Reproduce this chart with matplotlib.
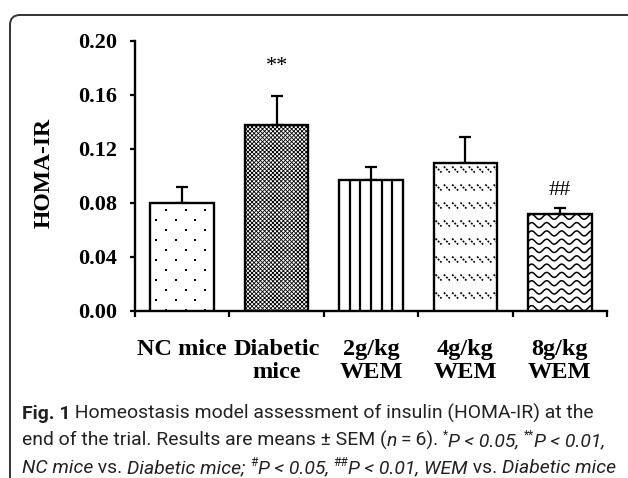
import matplotlib
matplotlib.use("Agg")
import matplotlib.pyplot as plt
import matplotlib.transforms as mtransforms
import numpy as np
from matplotlib.patches import FancyBboxPatch

# data
groups = ["NC mice", "Diabetic\nmice", "2g/kg\nWEM", "4g/kg\nWEM", "8g/kg\nWEM"]
homa_ir = [0.080, 0.138, 0.097, 0.110, 0.072]
sem = [0.012, 0.021, 0.010, 0.019, 0.004]
marks = ["", "**", "", "", "##"]
y_ticks = [0.00, 0.04, 0.08, 0.12, 0.16, 0.20]

W, H = 628, 478
plt.rcParams["font.family"] = "Liberation Serif"
fig = plt.figure(figsize=(W / 100, H / 100), dpi=100)
ax = fig.add_axes([135 / W, 1 - 311 / H, 472 / W, 270 / H])

x = np.arange(len(groups))
ax.set_xlim(-0.5, len(groups) - 0.5)
ax.set_ylim(0, 0.20)

bars = ax.bar(x, homa_ir, width=0.675, color="white", edgecolor="black",
              linewidth=1.7, zorder=3)
ax.errorbar(x, homa_ir, yerr=[np.zeros(len(sem)), sem], fmt="none",
            ecolor="black", elinewidth=1.6, capsize=4, capthick=1.6, zorder=2)

# pixel -> data scale
sx = (ax.get_xlim()[1] - ax.get_xlim()[0]) / ax.bbox.width
sy = 0.20 / ax.bbox.height

# checker in diabetic bar
bars[1].set_hatch("xxxxxxxx")
if hasattr(bars[1], "set_hatch_linewidth"):
    bars[1].set_hatch_linewidth(0.6)

# dots in NC bar
b = bars[0]
bx, bw, bh = b.get_x(), b.get_width(), b.get_height()
dx, dy = [], []
r = 0
yy = bh - 7 * sy
while yy > 0:
    off = 16 if r % 2 == 0 else 6
    xx = bx + off * sx
    while xx < bx + bw:
        dx.append(xx)
        dy.append(yy)
        xx += 19.5 * sx
    yy -= 10 * sy
    r += 1
ax.scatter(dx, dy, s=3.5, color="black", marker="s", zorder=4, clip_path=b,
           linewidths=0)

# vertical stripes in 2g bar
b = bars[2]
bx, bw, bh = b.get_x(), b.get_width(), b.get_height()
ax.vlines(bx + bw * np.arange(1, 6) / 6, 0, bh, color="black", lw=1.6,
          zorder=4)

# diagonal dashes in 4g bar
b = bars[3]
bx, bw, bh = b.get_x(), b.get_width(), b.get_height()
yy = bh - 7 * sy
while yy > -5 * sy:
    xx = bx + 2 * sx
    while xx < bx + bw:
        ln, = ax.plot([xx, xx + 6 * sx], [yy + 3 * sy, yy - 3 * sy],
                      color="black", lw=1.2, ls=(0, (1.2, 0.8)), zorder=4)
        ln.set_clip_path(b)
        xx += 8.3 * sx
    yy -= 18 * sy

# waves in 8g bar
b = bars[4]
bx, bw, bh = b.get_x(), b.get_width(), b.get_height()
wx = np.linspace(bx, bx + bw, 100)
yy = bh - 3 * sy
while yy > -3 * sy:
    wy = yy + 2.5 * sy * np.sin(2 * np.pi * (wx - bx) / (15 * sx))
    ln, = ax.plot(wx, wy, color="black", lw=1.1, zorder=4)
    ln.set_clip_path(b)
    yy -= 8.3 * sy

mark_lift = {"**": 0.022, "##": 0.0135}
for i, m in enumerate(marks):
    if m:
        ax.text(x[i], homa_ir[i] + sem[i] + mark_lift[m], m, ha="center",
                va="center", fontsize=16)

# axes styling
for s in ["top", "right"]:
    ax.spines[s].set_visible(False)
for s in ["left", "bottom"]:
    ax.spines[s].set_linewidth(1.7)
ax.set_yticks(y_ticks)
ax.set_yticklabels([f"{v:.2f}" for v in y_ticks], fontsize=16,
                   fontweight="bold")
ax.tick_params(axis="y", direction="out", length=3.5, width=1.6, pad=9.5)
ax.set_xticks(np.arange(-0.5, len(groups), 1))
ax.set_xticklabels([])
ax.tick_params(axis="x", direction="out", length=4.3, width=1.6)

lab_tr = mtransforms.blended_transform_factory(ax.transData, ax.transAxes)
for i, g in enumerate(groups):
    ax.text(x[i], -(339 - 311) / 270, g, transform=lab_tr, ha="center",
            va="top", fontsize=17.5, fontweight="bold", linespacing=1.12)

fig.text(44 / W, 1 - 173 / H, "HOMA-IR", rotation=90, ha="center",
         va="center", fontsize=17, fontweight="bold")

# frame of the figure panel
frame = FancyBboxPatch((10, -30), 700, H - 15 + 30,
                       boxstyle="round,pad=0,rounding_size=10",
                       transform=None, facecolor="none", edgecolor="#333333",
                       linewidth=1.4)
fig.patches.append(frame)

# caption
cap_font = "Roboto"
cap_color = "#222222"
lines = [
    [("Fig. 1", "b"), (" Homeostasis model assessment of insulin (HOMA-IR) at the", "r")],
    [("end of the trial. Results are means \u00b1 SEM (", "r"), ("n", "i"),
     ("\u2009=\u20096). ", "r"), ("*", "s"), ("P < 0.05, ", "i"), ("**", "s"),
     ("P < 0.01,", "i")],
    [("NC mice", "i"), (" vs. ", "r"), ("Diabetic mice;", "i"), (" ", "r"),
     ("#", "s"), ("P < 0.05, ", "i"), ("##", "s"), ("P < 0.01, WEM", "i"),
     (" vs. ", "r"), ("Diabetic mice", "i")],
]
renderer = fig.canvas.get_renderer()


def draw_line(pieces, x0, base, size, keep=True):
    xp = x0
    made = []
    for txt, style in pieces:
        kw = dict(family=cap_font, fontsize=size, color=cap_color)
        yb = base
        if style == "b":
            kw["weight"] = "bold"
        elif style == "i":
            kw["style"] = "italic"
        elif style == "s":
            kw["fontsize"] = size * 0.62
            yb = base - size * 100 / 72 * 0.38
        t = fig.text(xp / W, 1 - yb / H, txt, ha="left", va="baseline", **kw)
        made.append(t)
        xp = t.get_window_extent(renderer).x1
    if not keep:
        for t in made:
            t.remove()
    return xp - x0


x_cap = 22
w10 = draw_line(lines[1], x_cap, 447, 10, keep=False)
cap_size = 10 * (606 - x_cap) / w10
for pieces, base in zip(lines, [419, 446, 473]):
    draw_line(pieces, x_cap, base, cap_size)

fig.savefig("out.png", dpi=100)
